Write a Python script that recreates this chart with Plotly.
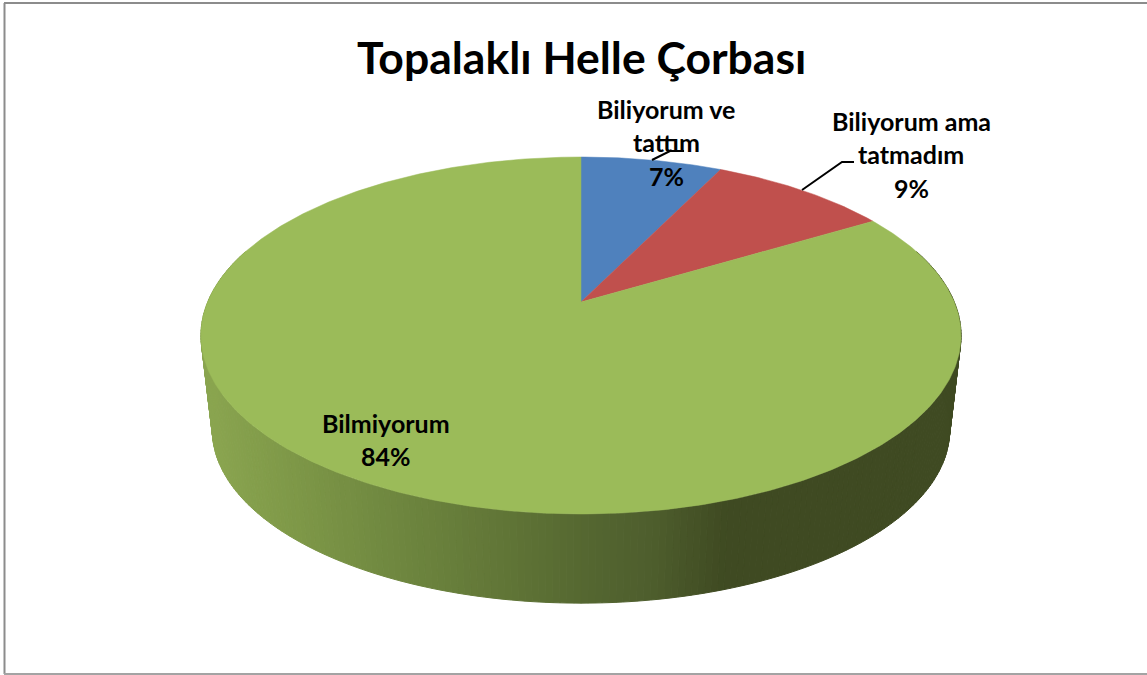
import numpy as np
import plotly.graph_objects as go

categories = ["Biliyorum ve tattım", "Biliyorum ama tatmadım", "Bilmiyorum"]
values = [7.2, 9.2, 83.6]
title_text = "Topalaklı Helle Çorbası"

slice_colors = ["#4F81BD", "#C0504D", "#9BBB59"]
label_lines = [["Biliyorum ve", "tattım"], ["Biliyorum ama", "tatmadım"], ["Bilmiyorum"]]
label_centers = [(666, [109, 142, 176]), (911, [121, 154, 188]), (386, [423, 456])]
leaders = [([652, 670, 684], [160, 151, 151]), ([802, 842, 854], [190, 162, 162])]

# Perspective view of the pie disc (pixel-based axes)
CX, CY, AX, AY, K = 581.0, 302.0, 373.3, 172.2, 0.1877
WIDE_Y, SHRINK, BOTTOM_WIDE_Y = 335.5, 0.97, 430.0
grad_x = [203, 300, 400, 500, 581, 650, 725, 961]
grad_rgb = [(139, 166, 80), (125, 151, 71), (110, 134, 63), (97, 118, 55),
            (85, 104, 49), (78, 94, 45), (63, 74, 34), (63, 74, 34)]


def top(frac):
    a = 2 * np.pi * np.asarray(frac, dtype=float)
    u, v = np.sin(a), np.cos(a)
    w = 1 + K * v
    return CX + AX * u / w, CY - AY * v / w


def bottom(frac):
    x, y = top(frac)
    return CX + SHRINK * (x - CX), BOTTOM_WIDE_Y + SHRINK * (y - WIDE_Y)


fig = go.Figure()

# Side wall, drawn as thin gradient bands
edges = np.linspace(0.2, 0.8, 241)
for f0, f1 in zip(edges[:-1], edges[1:]):
    x0, y0 = top(f0)
    x1, y1 = top(f1)
    x2, y2 = bottom(f1)
    x3, y3 = bottom(f0)
    xm = (x0 + x1 + x2 + x3) / 4
    rgb = [np.interp(xm, grad_x, [c[i] for c in grad_rgb]) for i in range(3)]
    col = "rgb(%d,%d,%d)" % tuple(round(c) for c in rgb)
    fig.add_trace(go.Scatter(x=[x0, x1, x2, x3, x0], y=[y0, y1, y2, y3, y0], mode="lines",
                             fill="toself", fillcolor=col, line=dict(color=col, width=1),
                             hoverinfo="skip", showlegend=False))

# Top face: slices clockwise from twelve o'clock, from the values
total = sum(values)
cum = 0.0
for name, val, col in zip(categories, values, slice_colors):
    fr = np.linspace(cum / total, (cum + val) / total, max(int(val * 6), 12))
    xs, ys = top(fr)
    fig.add_trace(go.Scatter(x=[CX, *xs, CX], y=[CY, *ys, CY], mode="lines", fill="toself",
                             fillcolor=col, line=dict(color=col, width=0.5), name=name,
                             hovertemplate=f"{name}: {val:.0f}%<extra></extra>", showlegend=False))
    cum += val

# Leader lines
for lx, ly in leaders:
    fig.add_trace(go.Scatter(x=lx, y=ly, mode="lines", line=dict(color="black", width=2),
                             hoverinfo="skip", showlegend=False))

annotations = [dict(x=581, y=56, text=f"<b>{title_text}</b>", showarrow=False, xanchor="center",
                    yanchor="middle", font=dict(family="Lato", size=44.5, color="black"))]
for lines, val, (cx, ys) in zip(label_lines, values, label_centers):
    for txt, ly in zip(lines + [f"{round(val / total * 100)}%"], ys):
        annotations.append(dict(x=cx, y=ly, text=f"<b>{txt}</b>", showarrow=False, xanchor="center",
                                yanchor="middle", font=dict(family="Lato", size=25, color="black")))

line_top = dict(color="#8c8c8c", width=2)
line_bot = dict(color="#a3a3a3", width=2)
shapes = [
    dict(type="line", xref="x", yref="y", x0=4, x1=1147, y0=3, y1=3, line=line_top),
    dict(type="line", xref="x", yref="y", x0=4.5, x1=4.5, y0=3, y1=674, line=line_top),
    dict(type="line", xref="x", yref="y", x0=4, x1=1147, y0=674, y1=674, line=line_bot),
]

fig.update_layout(
    width=1147, height=675, margin=dict(l=0, r=0, t=0, b=0),
    paper_bgcolor="white", plot_bgcolor="white", showlegend=False,
    xaxis=dict(range=[0, 1147], visible=False, fixedrange=True),
    yaxis=dict(range=[675, 0], visible=False, fixedrange=True),
    annotations=annotations, shapes=shapes,
)
fig.write_html("out.html", config=dict(displayModeBar=False),
               post_script="document.body.style.margin='0';document.documentElement.style.overflow='hidden';")
